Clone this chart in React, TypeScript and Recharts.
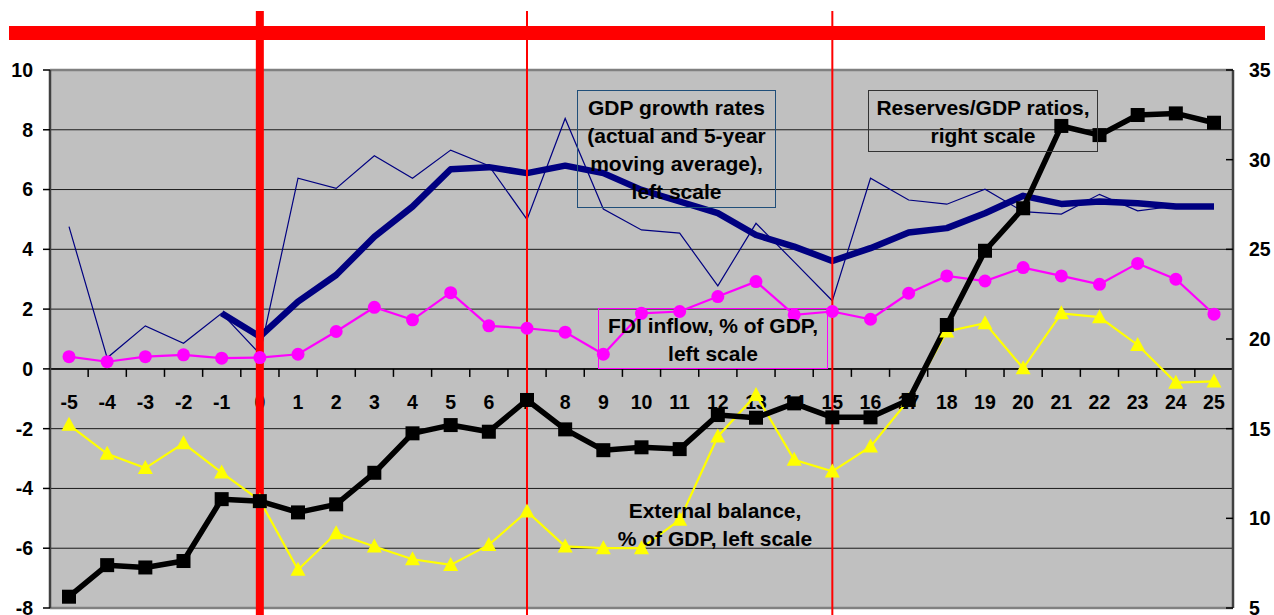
import React from 'react';
import { LineChart, Line, XAxis, YAxis, CartesianGrid, ReferenceLine } from 'recharts';

const years = [-5, -4, -3, -2, -1, 0, 1, 2, 3, 4, 5, 6, 7, 8, 9, 10, 11, 12, 13, 14, 15, 16, 17, 18, 19, 20, 21, 22, 23, 24, 25];
const gdpActual = [4.76, 0.37, 1.44, 0.86, 1.86, 0.5, 6.38, 6.04, 7.13, 6.38, 7.32, 6.8, 5.0, 8.38, 5.35, 4.65, 4.54, 2.78, 4.87, 3.58, 2.28, 6.38, 5.65, 5.51, 6.01, 5.26, 5.18, 5.84, 5.29, 5.45, 5.45];
const gdpMA = [null, null, null, null, 1.86, 1.08, 2.25, 3.14, 4.42, 5.43, 6.68, 6.75, 6.55, 6.8, 6.55, 5.99, 5.6, 5.21, 4.48, 4.09, 3.61, 4.04, 4.56, 4.71, 5.21, 5.79, 5.52, 5.6, 5.54, 5.43, 5.43];
const fdi = [0.41, 0.24, 0.41, 0.47, 0.36, 0.38, 0.49, 1.25, 2.06, 1.64, 2.55, 1.44, 1.36, 1.23, 0.49, 1.86, 1.92, 2.42, 2.92, 1.81, 1.92, 1.66, 2.53, 3.11, 2.94, 3.39, 3.11, 2.83, 3.53, 3.0, 1.83];
const extBalance = [-1.87, -2.84, -3.32, -2.49, -3.47, -4.4, -6.72, -5.5, -5.94, -6.37, -6.56, -5.89, -4.77, -5.94, -6.0, -6.0, -5.05, -2.26, -0.87, -3.04, -3.43, -2.6, -1.04, 1.25, 1.53, 0.02, 1.86, 1.73, 0.8, -0.46, -0.42];
const reserves = [5.63, 7.39, 7.26, 7.62, 11.07, 10.96, 10.33, 10.78, 12.54, 14.74, 15.2, 14.83, 16.6, 14.96, 13.8, 13.96, 13.86, 15.76, 15.61, 16.41, 15.63, 15.63, 16.6, 20.78, 24.92, 27.29, 31.88, 31.37, 32.49, 32.58, 32.06];
const leftTicks = [-8, -6, -4, -2, 0, 2, 4, 6, 8, 10];
const rightTicks = [5, 10, 15, 20, 25, 30, 35];
const markerYears = [0, 7, 15];

const data = years.map((year, i) => ({
  year,
  gdpActual: gdpActual[i],
  gdpMA: gdpMA[i],
  fdi: fdi[i],
  extBalance: extBalance[i],
  reserves: reserves[i],
}));

const FONT = "'Liberation Sans', Arial, Helvetica, sans-serif";

function ZeroAxis(props: any) {
  const { x1, x2, y1 } = props;
  if (x1 == null || x2 == null || y1 == null) return null;
  const band = (x2 - x1) / years.length;
  return (
    <g>
      <line x1={x1} x2={x2} y1={y1} y2={y1} stroke="#000" strokeWidth={1.5} />
      {years.map((_, i) => (
        <line key={`zt${i}`} x1={x1 + band * (i + 1)} x2={x1 + band * (i + 1)} y1={y1} y2={y1 + 8} stroke="#000" strokeWidth={1.5} />
      ))}
      {years.map((yr, i) => (
        <text key={`zl${i}`} x={x1 + band * (i + 0.5)} y={y1 + 33} dy="0.36em" textAnchor="middle" fontFamily={FONT} fontWeight="bold" fontSize={19.5} fill="#000">
          {yr}
        </text>
      ))}
    </g>
  );
}

function TopBar(props: any) {
  const { x1, x2, y1 } = props;
  if (x1 == null || x2 == null || y1 == null) return null;
  return <line x1={x1 - 41} x2={x2 + 32} y1={y1} y2={y1} stroke="#ff0000" strokeWidth={14} />;
}

function RightTick(props: any) {
  const { x, y, payload } = props;
  return (
    <g>
      <line x1={x - 23} x2={x - 16} y1={y} y2={y} stroke="#000" strokeWidth={1.5} />
      <text x={x} y={y} dy="0.36em" textAnchor="start" fontFamily={FONT} fontWeight="bold" fontSize={19.5} fill="#000">
        {payload.value}
      </text>
    </g>
  );
}

function SquareDot(props: any) {
  const { cx, cy, index } = props;
  if (cx == null || cy == null) return <g key={`sq${index}`} />;
  return <rect key={`sq${index}`} x={cx - 7} y={cy - 7} width={14} height={14} fill="#000" />;
}

function TriangleDot(props: any) {
  const { cx, cy, index } = props;
  if (cx == null || cy == null) return <g key={`tr${index}`} />;
  return <polygon key={`tr${index}`} points={`${cx},${cy - 8} ${cx - 7.5},${cy + 6} ${cx + 7.5},${cy + 6}`} fill="#ffff00" />;
}

const boxText: React.CSSProperties = {
  position: 'absolute',
  fontFamily: FONT,
  fontWeight: 'bold',
  fontSize: 21,
  lineHeight: '28px',
  color: '#000',
  textAlign: 'center',
  whiteSpace: 'nowrap',
  boxSizing: 'border-box',
  pointerEvents: 'none',
};

export default function App() {
  return (
    <div style={{ position: 'absolute', left: 0, top: 0, width: 1274, height: 615, background: '#fff', overflow: 'hidden' }}>
      <LineChart width={1274} height={615} data={data} margin={{ top: 70, right: 0, bottom: 7, left: 0 }}>
        <CartesianGrid yAxisId="left" vertical={false} horizontal fill="#c0c0c0" stroke="#1a1a1a" strokeWidth={1} />
        <XAxis dataKey="year" type="category" hide padding={{ left: 19, right: 19 }} />
        <YAxis
          yAxisId="left"
          domain={[-8, 10]}
          ticks={leftTicks}
          interval={0}
          width={50}
          axisLine={{ stroke: '#404040', strokeWidth: 2.5 }}
          tickLine={{ stroke: '#000', strokeWidth: 1.5 }}
          tickSize={7}
          tickMargin={10}
          tick={{ fontFamily: FONT, fontWeight: 'bold', fontSize: 19.5, fill: '#000' }}
        />
        <YAxis
          yAxisId="right"
          orientation="right"
          domain={[5, 35]}
          ticks={rightTicks}
          interval={0}
          width={41}
          axisLine={{ stroke: '#404040', strokeWidth: 2.5 }}
          tickLine={false}
          tickSize={0}
          tickMargin={16}
          tick={<RightTick />}
        />
        <ReferenceLine yAxisId="left" y={10} stroke="#808080" strokeWidth={2.5} />
        <ReferenceLine yAxisId="left" y={-8} stroke="#808080" strokeWidth={2.5} />
        <ReferenceLine yAxisId="left" y={0} shape={<ZeroAxis />} />
        <Line yAxisId="left" dataKey="gdpActual" stroke="#000080" strokeWidth={1.2} dot={false} isAnimationActive={false} />
        <Line yAxisId="left" dataKey="gdpMA" stroke="#000080" strokeWidth={6.5} strokeLinejoin="round" dot={false} isAnimationActive={false} />
        <Line yAxisId="left" dataKey="fdi" stroke="#ff00ff" strokeWidth={2.2} dot={{ r: 6.5, fill: '#ff00ff', stroke: '#ff00ff', strokeWidth: 0 }} isAnimationActive={false} />
        <Line yAxisId="left" dataKey="extBalance" stroke="#ffff00" strokeWidth={2.2} dot={(p: any) => <TriangleDot {...p} key={`tr${p.index}`} />} isAnimationActive={false} />
        <Line yAxisId="right" dataKey="reserves" stroke="#000" strokeWidth={5.5} strokeLinejoin="round" dot={(p: any) => <SquareDot {...p} key={`sq${p.index}`} />} isAnimationActive={false} />
        {markerYears.map((yr, i) => (
          <ReferenceLine
            key={`mk${i}`}
            yAxisId="left"
            ifOverflow="visible"
            segment={[{ x: yr, y: 11.97 }, { x: yr, y: -8.3 }]}
            stroke="#ff0000"
            strokeWidth={i === 0 ? 8 : 2}
          />
        ))}
        <ReferenceLine yAxisId="left" y={11.24} ifOverflow="visible" shape={<TopBar />} />
      </LineChart>

      <div style={{ ...boxText, left: 577, top: 90, width: 199, height: 118, paddingTop: 3, border: '1px solid #1f4e79' }}>
        GDP growth rates<br />(actual and 5-year<br />moving average),<br />left scale
      </div>
      <div style={{ ...boxText, left: 868, top: 90, width: 230, height: 62, paddingTop: 3, border: '1px solid #333' }}>
        Reserves/GDP ratios,<br />right scale
      </div>
      <div style={{ ...boxText, left: 598, top: 308, width: 230, height: 61, paddingTop: 3, border: '1px solid #ff00ff' }}>
        FDI inflow, % of GDP,<br />left scale
      </div>
      <div style={{ ...boxText, left: 600, top: 497, width: 230, lineHeight: '27.6px' }}>
        External balance,<br />% of GDP, left scale
      </div>
    </div>
  );
}
